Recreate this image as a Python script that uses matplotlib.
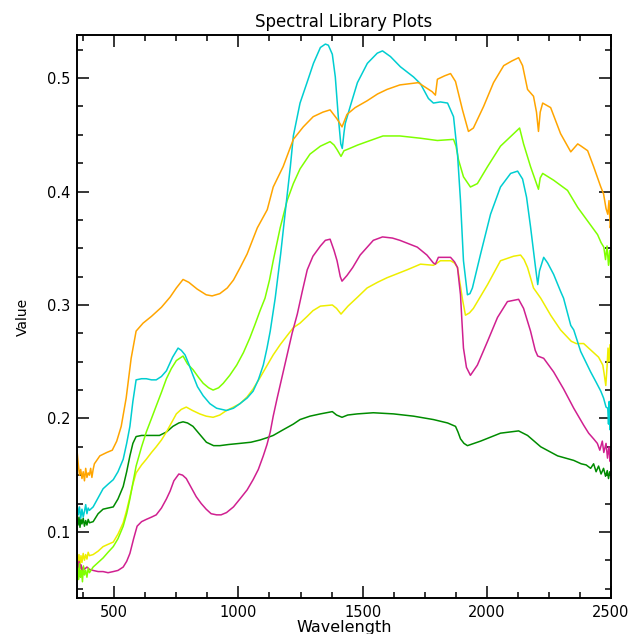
import matplotlib
matplotlib.use("Agg")
import matplotlib.pyplot as plt
from matplotlib.ticker import MultipleLocator, FixedLocator

plt.rcParams['font.family'] = ['DejaVu Sans']

title = "Spectral Library Plots"
xlabel = "Wavelength"
ylabel = "Value"
xticks = [500, 1000, 1500, 2000, 2500]
yticks = [0.1, 0.2, 0.3, 0.4, 0.5]
ytick_labels = ["0.1", "0.2", "0.3", "0.4", "0.5"]

orange = [(350,0.172),(355,0.160),(360,0.150),(365,0.155),(370,0.147),(375,0.153),(380,0.145),(385,0.156),(390,0.148),(395,0.152),(400,0.150),(405,0.156),(410,0.148),(415,0.155),(420,0.160),(442,0.167),(470,0.170),(492,0.172),(510,0.180),(528,0.193),(548,0.218),(568,0.253),(588,0.277),(616,0.284),(650,0.290),(690,0.298),(725,0.307),(750,0.315),(777,0.3225),(800,0.320),(834,0.314),(870,0.309),(894,0.308),(925,0.310),(955,0.315),(980,0.322),(1007,0.333),(1035,0.345),(1076,0.368),(1116,0.384),(1140,0.404),(1180,0.422),(1221,0.446),(1261,0.457),(1301,0.466),(1340,0.470),(1369,0.472),(1397,0.464),(1417,0.457),(1437,0.468),(1470,0.474),(1518,0.480),(1560,0.486),(1598,0.490),(1650,0.494),(1724,0.496),(1759,0.491),(1780,0.488),(1793,0.485),(1801,0.499),(1830,0.502),(1854,0.504),(1874,0.497),(1902,0.472),(1926,0.453),(1946,0.456),(1987,0.475),(2027,0.496),(2068,0.511),(2100,0.515),(2128,0.518),(2144,0.511),(2164,0.490),(2188,0.484),(2200,0.470),(2208,0.453),(2215,0.470),(2225,0.478),(2257,0.474),(2297,0.451),(2338,0.435),(2366,0.442),(2380,0.440),(2406,0.436),(2430,0.422),(2459,0.404),(2470,0.398),(2480,0.385),(2487,0.380),(2492,0.392),(2497,0.368),(2500,0.372)]

cyan = [(350,0.125),(355,0.115),(360,0.122),(365,0.112),(370,0.120),(375,0.113),(380,0.118),(385,0.124),(390,0.116),(395,0.121),(400,0.119),(415,0.122),(435,0.130),(455,0.138),(475,0.142),(496,0.146),(515,0.153),(536,0.164),(550,0.178),(563,0.193),(575,0.215),(588,0.234),(610,0.235),(629,0.235),(650,0.234),(669,0.234),(690,0.237),(710,0.242),(735,0.254),(757,0.262),(770,0.260),(785,0.256),(800,0.248),(817,0.238),(835,0.228),(858,0.220),(885,0.213),(912,0.209),(952,0.207),(980,0.209),(1006,0.213),(1035,0.218),(1059,0.224),(1080,0.234),(1100,0.247),(1115,0.262),(1128,0.277),(1148,0.306),(1170,0.345),(1190,0.385),(1209,0.422),(1221,0.449),(1248,0.478),(1276,0.496),(1302,0.513),(1330,0.527),(1350,0.530),(1362,0.529),(1378,0.521),(1390,0.501),(1402,0.466),(1412,0.442),(1418,0.438),(1425,0.452),(1430,0.460),(1450,0.475),(1479,0.496),(1519,0.513),(1559,0.522),(1580,0.524),(1612,0.519),(1652,0.510),(1705,0.501),(1733,0.495),(1765,0.482),(1785,0.478),(1813,0.479),(1842,0.478),(1866,0.466),(1882,0.433),(1894,0.392),(1906,0.339),(1922,0.309),(1932,0.310),(1942,0.315),(1975,0.345),(2015,0.380),(2055,0.404),(2096,0.416),(2124,0.418),(2144,0.411),(2160,0.395),(2176,0.369),(2195,0.335),(2205,0.318),(2212,0.330),(2229,0.342),(2245,0.337),(2269,0.327),(2297,0.312),(2309,0.306),(2338,0.282),(2350,0.278),(2378,0.259),(2418,0.241),(2440,0.232),(2459,0.224),(2470,0.218),(2480,0.210),(2487,0.209),(2490,0.195),(2493,0.215),(2496,0.190),(2500,0.200)]

lime = [(350,0.055),(353,0.068),(356,0.058),(360,0.072),(364,0.060),(368,0.066),(372,0.056),(376,0.070),(380,0.062),(385,0.066),(390,0.060),(395,0.068),(400,0.064),(415,0.069),(435,0.073),(455,0.077),(475,0.082),(496,0.087),(515,0.094),(536,0.105),(550,0.116),(563,0.129),(575,0.143),(588,0.158),(610,0.175),(629,0.188),(650,0.200),(669,0.211),(690,0.223),(710,0.235),(730,0.244),(750,0.251),(777,0.255),(795,0.248),(817,0.243),(840,0.236),(858,0.231),(880,0.227),(898,0.225),(920,0.227),(939,0.231),(965,0.238),(993,0.247),(1020,0.258),(1046,0.271),(1067,0.283),(1087,0.295),(1107,0.306),(1125,0.322),(1140,0.339),(1168,0.368),(1196,0.392),(1221,0.407),(1248,0.420),(1288,0.433),(1330,0.440),(1369,0.444),(1385,0.441),(1397,0.437),(1413,0.431),(1425,0.436),(1437,0.437),(1480,0.441),(1518,0.444),(1582,0.449),(1650,0.449),(1733,0.447),(1801,0.445),(1866,0.446),(1876,0.440),(1886,0.428),(1906,0.413),(1934,0.404),(1962,0.407),(2003,0.422),(2055,0.440),(2108,0.451),(2132,0.456),(2148,0.442),(2176,0.422),(2200,0.407),(2208,0.402),(2215,0.412),(2225,0.416),(2269,0.410),(2325,0.401),(2366,0.386),(2406,0.374),(2446,0.362),(2460,0.355),(2471,0.351),(2478,0.340),(2484,0.352),(2490,0.335),(2495,0.348),(2500,0.330)]

magenta = [(350,0.072),(354,0.066),(358,0.074),(362,0.068),(366,0.071),(370,0.065),(375,0.069),(380,0.067),(390,0.069),(400,0.067),(415,0.066),(435,0.065),(455,0.065),(475,0.064),(496,0.065),(515,0.066),(536,0.069),(550,0.074),(563,0.081),(578,0.094),(592,0.105),(610,0.109),(629,0.111),(650,0.113),(669,0.115),(690,0.121),(710,0.129),(725,0.136),(740,0.145),(760,0.151),(775,0.150),(790,0.147),(810,0.139),(830,0.131),(850,0.125),(870,0.120),(890,0.116),(912,0.115),(930,0.115),(952,0.117),(980,0.122),(1006,0.129),(1035,0.137),(1059,0.146),(1080,0.155),(1100,0.167),(1115,0.177),(1128,0.188),(1140,0.202),(1156,0.218),(1176,0.237),(1196,0.256),(1216,0.275),(1237,0.292),(1257,0.312),(1277,0.331),(1300,0.343),(1330,0.352),(1350,0.357),(1369,0.358),(1385,0.348),(1397,0.339),(1410,0.325),(1417,0.321),(1437,0.326),(1460,0.333),(1490,0.344),(1543,0.357),(1580,0.360),(1620,0.359),(1650,0.357),(1720,0.351),(1759,0.344),(1785,0.337),(1793,0.336),(1805,0.342),(1854,0.342),(1870,0.338),(1882,0.333),(1894,0.309),(1900,0.285),(1906,0.262),(1918,0.245),(1934,0.238),(1962,0.247),(2003,0.268),(2043,0.289),(2083,0.303),(2128,0.305),(2148,0.297),(2176,0.277),(2195,0.260),(2205,0.255),(2229,0.253),(2269,0.241),(2309,0.226),(2350,0.209),(2390,0.194),(2410,0.187),(2430,0.182),(2445,0.178),(2455,0.172),(2465,0.180),(2471,0.170),(2480,0.178),(2486,0.165),(2492,0.175),(2497,0.162),(2500,0.170)]

yellow = [(350,0.082),(354,0.072),(358,0.080),(362,0.070),(366,0.079),(370,0.073),(375,0.081),(380,0.075),(385,0.080),(390,0.076),(395,0.082),(400,0.079),(415,0.080),(435,0.083),(455,0.087),(475,0.089),(496,0.091),(515,0.098),(536,0.108),(550,0.119),(563,0.131),(575,0.142),(588,0.152),(610,0.159),(629,0.164),(650,0.170),(669,0.175),(690,0.181),(710,0.188),(730,0.196),(750,0.204),(770,0.208),(790,0.210),(815,0.207),(844,0.204),(870,0.202),(898,0.201),(925,0.203),(952,0.207),(980,0.210),(1006,0.213),(1035,0.219),(1059,0.226),(1087,0.236),(1116,0.247),(1140,0.256),(1168,0.265),(1196,0.273),(1221,0.280),(1248,0.284),(1277,0.290),(1300,0.295),(1330,0.299),(1378,0.300),(1395,0.297),(1413,0.292),(1425,0.295),(1441,0.299),(1480,0.307),(1518,0.315),(1560,0.320),(1598,0.324),(1679,0.331),(1733,0.336),(1785,0.335),(1800,0.337),(1813,0.339),(1854,0.339),(1870,0.337),(1882,0.333),(1895,0.315),(1902,0.305),(1914,0.291),(1930,0.293),(1946,0.297),(2003,0.318),(2055,0.339),(2108,0.343),(2136,0.344),(2150,0.340),(2164,0.333),(2188,0.315),(2217,0.306),(2257,0.291),(2297,0.278),(2340,0.268),(2360,0.266),(2390,0.266),(2430,0.258),(2450,0.254),(2467,0.247),(2472,0.240),(2479,0.229),(2484,0.245),(2488,0.262),(2492,0.250),(2496,0.265),(2500,0.255)]

darkgreen = [(350,0.112),(354,0.106),(358,0.113),(362,0.104),(366,0.111),(370,0.107),(375,0.112),(380,0.105),(385,0.110),(390,0.106),(395,0.111),(400,0.108),(415,0.109),(435,0.116),(455,0.120),(475,0.121),(496,0.122),(515,0.129),(536,0.140),(550,0.153),(563,0.167),(575,0.178),(588,0.184),(610,0.185),(629,0.185),(655,0.185),(682,0.185),(710,0.188),(736,0.193),(760,0.196),(777,0.197),(795,0.196),(817,0.193),(840,0.187),(871,0.179),(900,0.176),(925,0.176),(960,0.177),(1006,0.178),(1050,0.179),(1087,0.181),(1115,0.183),(1140,0.185),(1180,0.190),(1221,0.195),(1248,0.199),(1288,0.202),(1330,0.204),(1378,0.206),(1395,0.203),(1417,0.201),(1440,0.203),(1479,0.204),(1543,0.205),(1624,0.204),(1705,0.202),(1785,0.199),(1842,0.196),(1874,0.193),(1884,0.188),(1894,0.182),(1908,0.178),(1922,0.176),(1975,0.180),(2055,0.187),(2128,0.189),(2164,0.185),(2217,0.175),(2285,0.167),(2350,0.163),(2380,0.160),(2400,0.159),(2418,0.156),(2430,0.160),(2440,0.153),(2450,0.158),(2460,0.151),(2470,0.156),(2478,0.149),(2485,0.154),(2490,0.147),(2495,0.153),(2500,0.150)]

series = [
    (darkgreen, "#008c00"),
    (yellow, "#eeee00"),
    (magenta, "#d02090"),
    (lime, "#7fff00"),
    (cyan, "#00ced1"),
    (orange, "#ffa500"),
]

W, H = 632, 634
fig = plt.figure(figsize=(W / 100, H / 100), dpi=100)
left, right, top, bottom = 77, 611, 35, 598
ax = fig.add_axes([left / W, 1 - bottom / H, (right - left) / W, (bottom - top) / H])

for data, color in series:
    xs = [p[0] for p in data]
    ys = [p[1] for p in data]
    ax.plot(xs, ys, color=color, linewidth=1.1)

ax.set_xlim(350, 2500)
ax.set_ylim(0.0417, 0.538)
ax.xaxis.set_major_locator(FixedLocator(xticks))
ax.xaxis.set_minor_locator(MultipleLocator(125))
ax.yaxis.set_major_locator(FixedLocator(yticks))
ax.set_yticklabels(ytick_labels)
ax.yaxis.set_minor_locator(MultipleLocator(0.025))
ax.tick_params(which='both', direction='in', top=True, right=True, width=1.1, labelsize=10.5)
ax.tick_params(which='major', length=8.5, pad=5)
ax.tick_params(which='minor', length=4.3)
for s in ax.spines.values():
    s.set_linewidth(1.4)

ax.set_title(title, fontsize=12, pad=6)
ax.set_xlabel(xlabel, fontsize=11.5, labelpad=0)
ax.set_ylabel(ylabel, fontsize=10, labelpad=12)

fig.savefig("out.png", dpi=100)
